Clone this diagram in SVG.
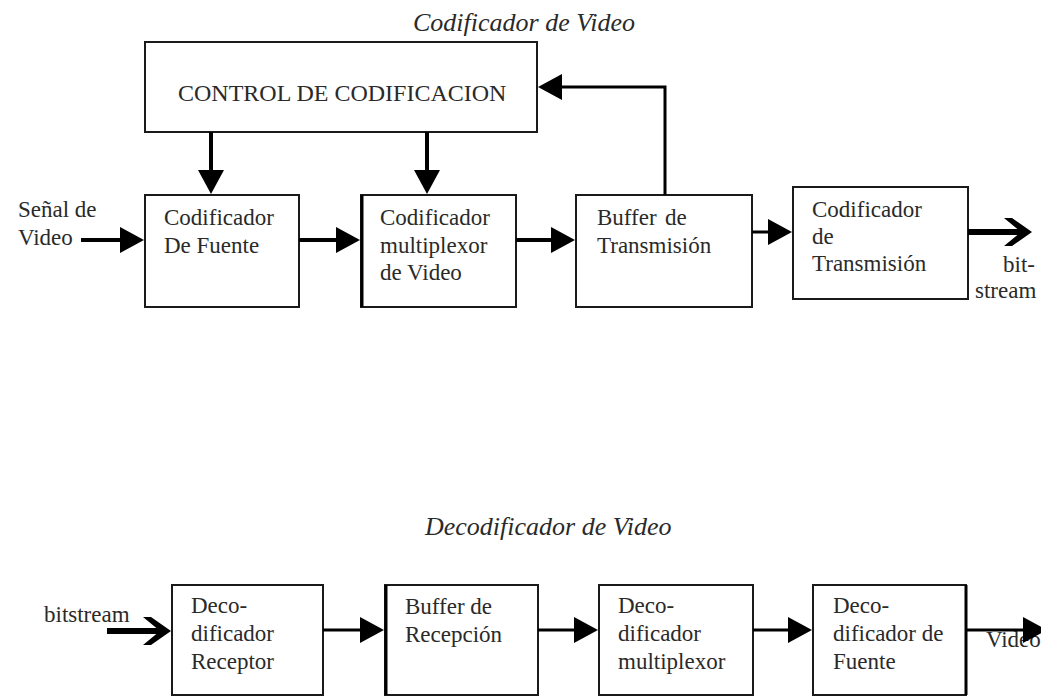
<svg xmlns="http://www.w3.org/2000/svg" width="1041" height="696" viewBox="0 0 1041 696">
  <style>
    .box { fill: #ffffff; stroke: #1a1a1a; stroke-width: 2; }
    .lbl { font-family: "Liberation Serif", "DejaVu Serif", serif; font-size: 23px; fill: #2a2a2a; }
    .big { font-size: 24px; }
    .ttl { font-family: "Liberation Serif", "DejaVu Serif", serif; font-size: 26px; font-style: italic; fill: #2a2a2a; }
    .wire { fill: none; stroke: #000000; stroke-width: 4; }
    .wire-thin { fill: none; stroke: #000000; stroke-width: 3; }
    .wire-bold { fill: none; stroke: #000000; stroke-width: 6; }
  </style>
  <defs>
    <marker id="head" viewBox="0 0 24 26" refX="1" refY="13" markerWidth="24" markerHeight="26" markerUnits="userSpaceOnUse" orient="auto">
      <path d="M0,0 L24,13 L0,26 Z" fill="#000000"/>
    </marker>
    <marker id="chevron" viewBox="0 0 28 28" refX="20" refY="14" markerWidth="28" markerHeight="28" markerUnits="userSpaceOnUse" orient="auto">
      <path d="M0,0 L8,0 L28,14 L8,28 L0,28 L17,14 Z" fill="#000000"/>
    </marker>
  </defs>

  <rect width="1041" height="696" fill="#ffffff"/>

  <g font-family="Liberation Serif, DejaVu Serif, serif">
  <!-- encoder section -->
  <text class="ttl" x="413" y="31">Codificador de Video</text>

  <g id="control">
    <rect class="box" x="145" y="42" width="392" height="90"/>
    <text class="lbl big" x="178" y="101">CONTROL DE CODIFICACION</text>
  </g>

  <g id="cod-fuente">
    <rect class="box" x="145" y="195" width="154" height="112"/>
    <text class="lbl" x="164" y="225">Codificador</text>
    <text class="lbl" x="164" y="253">De Fuente</text>
  </g>

  <g id="cod-mux">
    <rect class="box" x="361" y="195" width="155" height="112"/>
    <line x1="362" y1="195" x2="362" y2="307" stroke="#000000" stroke-width="3"/>
    <text class="lbl" x="380" y="225">Codificador</text>
    <text class="lbl" x="380" y="253">multiplexor</text>
    <text class="lbl" x="380" y="280">de Video</text>
  </g>

  <g id="buffer-tx">
    <rect class="box" x="576" y="195" width="176" height="112"/>
    <text class="lbl" x="597" y="225">Buffer</text>
    <text class="lbl" x="665" y="225">de</text>
    <text class="lbl" x="597" y="253">Transmisión</text>
  </g>

  <g id="cod-tx">
    <rect class="box" x="793" y="187" width="175" height="112"/>
    <text class="lbl" x="812" y="217">Codificador</text>
    <text class="lbl" x="812" y="244">de</text>
    <text class="lbl" x="812" y="271">Transmisión</text>
  </g>

  <g id="enc-in-label">
    <text class="lbl" x="18" y="217">Señal de</text>
    <text class="lbl" x="18" y="245">Video</text>
  </g>

  <g id="enc-out-label">
    <text class="lbl" x="1003" y="272">bit-</text>
    <text class="lbl" x="975" y="298">stream</text>
  </g>

  <!-- decoder section -->
  <text class="ttl" x="425" y="535">Decodificador de Video</text>

  <g id="dec-receptor">
    <rect class="box" x="172" y="585" width="151" height="110"/>
    <text class="lbl" x="191" y="613">Deco-</text>
    <text class="lbl" x="191" y="641">dificador</text>
    <text class="lbl" x="191" y="669">Receptor</text>
  </g>

  <g id="buffer-rx">
    <rect class="box" x="385" y="585" width="153" height="110"/>
    <line x1="386" y1="585" x2="386" y2="695" stroke="#000000" stroke-width="3"/>
    <text class="lbl" x="405" y="614">Buffer de</text>
    <text class="lbl" x="405" y="642">Recepción</text>
  </g>

  <g id="dec-mux">
    <rect class="box" x="599" y="585" width="154" height="110"/>
    <text class="lbl" x="618" y="613">Deco-</text>
    <text class="lbl" x="618" y="641">dificador</text>
    <text class="lbl" x="618" y="669">multiplexor</text>
  </g>

  <g id="dec-fuente">
    <rect class="box" x="813" y="585" width="153" height="110"/>
    <line x1="966" y1="585" x2="966" y2="695" stroke="#000000" stroke-width="3"/>
    <text class="lbl" x="833" y="613">Deco-</text>
    <text class="lbl" x="833" y="641">dificador de</text>
    <text class="lbl" x="833" y="669">Fuente</text>
  </g>

  <g id="dec-labels">
    <text class="lbl" x="44" y="622">bitstream</text>
    <text class="lbl" x="986" y="647">Video</text>
  </g>
  </g>

  <!-- connectors -->
  <g id="connectors">
    <line class="wire" x1="81" y1="240" x2="121" y2="240" stroke-width="5" marker-end="url(#head)"/>
    <line class="wire" x1="299" y1="240" x2="337" y2="240" marker-end="url(#head)"/>
    <line class="wire" x1="516" y1="240" x2="552" y2="240" marker-end="url(#head)"/>
    <line class="wire-thin" x1="752" y1="232" x2="769" y2="232" marker-end="url(#head)"/>
    <line class="wire-bold" x1="968" y1="232" x2="1024" y2="232" marker-end="url(#chevron)"/>
    <line class="wire" x1="211" y1="132" x2="211" y2="171" marker-end="url(#head)"/>
    <line class="wire" x1="427" y1="132" x2="427" y2="171" marker-end="url(#head)"/>
    <path class="wire-thin" d="M665,195 V87 H561" marker-end="url(#head)"/>

    <line class="wire-bold" x1="107" y1="631" x2="163" y2="631" marker-end="url(#chevron)"/>
    <line class="wire-thin" x1="323" y1="630" x2="361" y2="630" marker-end="url(#head)"/>
    <line class="wire-thin" x1="538" y1="630" x2="575" y2="630" marker-end="url(#head)"/>
    <line class="wire-thin" x1="753" y1="630" x2="789" y2="630" marker-end="url(#head)"/>
    <line class="wire-thin" x1="966" y1="630" x2="1024" y2="630" marker-end="url(#head)"/>
  </g>
</svg>
